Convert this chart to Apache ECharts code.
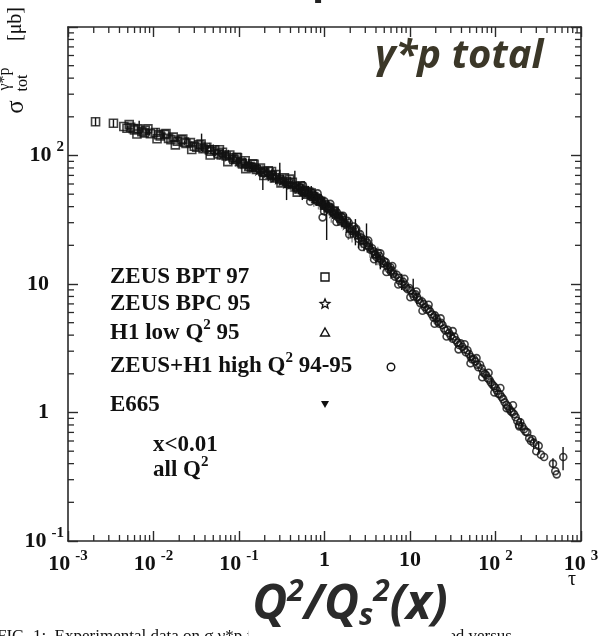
<!DOCTYPE html>
<html><head><meta charset="utf-8">
<script src="https://cdn.jsdelivr.net/npm/echarts@6/dist/echarts.min.js"></script>
<style>html,body{margin:0;padding:0;background:#fff}#c{width:605px;height:636px}</style>
</head><body><div id="c"></div>
<script>
// ---- axis ranges ----
const xRange = [0.001, 1000];
const yRange = [0.1, 1000];

// ---- data: [tau, sigma_tot (microbarn)] ----
const zeusBPT97 = [[0.0021,183],[0.0034,178],[0.0045,168],[0.0049,163],[0.0052,174],[0.0054,166],[0.0058,162],[0.006,158],[0.0064,147],[0.0066,161],[0.0073,153],[0.0078,150],[0.008,157],[0.0086,161],[0.0092,148],[0.0105,151],[0.011,135],[0.0115,145],[0.012,142],[0.0135,146],[0.014,148],[0.015,136],[0.016,133],[0.017,139],[0.018,121],[0.019,129],[0.021,132],[0.022,134],[0.023,127],[0.024,124],[0.027,126],[0.028,111.5],[0.03,118],[0.032,116],[0.034,121],[0.036,123],[0.038,113],[0.042,116],[0.045,111],[0.046,101],[0.047,108],[0.052,111],[0.058,103],[0.059,111],[0.062,101],[0.064,106],[0.071,99],[0.074,89.6],[0.078,101],[0.085,96],[0.087,93],[0.094,97],[0.096,96],[0.107,88],[0.11,86],[0.118,91],[0.12,79],[0.13,82],[0.14,81],[0.145,86],[0.15,85.6],[0.16,78],[0.178,80],[0.19,75],[0.195,69.8],[0.2,74],[0.22,76],[0.24,75],[0.245,70],[0.26,67],[0.27,71],[0.3,65],[0.31,61.2],[0.34,67],[0.36,63],[0.38,61],[0.39,65.5],[0.42,62],[0.47,57],[0.48,51.9],[0.5,55],[0.52,58],[0.58,53],[0.62,50],[0.65,52],[0.7,51],[0.75,48],[0.82,46],[0.9,44],[1.0,41],[1.1,39],[1.3,37],[1.6,31]];
const zeusBPC95 = [[0.04,116],[0.045,112],[0.055,107],[0.065,103],[0.075,99],[0.09,94],[0.1,91],[0.115,87],[0.13,85],[0.15,81],[0.17,77],[0.19,76],[0.21,73],[0.24,70],[0.26,68],[0.29,66],[0.32,64],[0.36,61],[0.4,60],[0.45,58],[0.5,56],[0.56,53],[0.62,51],[0.7,49],[0.78,47],[0.88,45],[0.98,42],[1.1,40],[1.25,36],[1.4,35],[1.8,29],[2.3,25]];
const h1LowQ2_95 = [[0.09,93],[0.1,89],[0.12,86],[0.14,82],[0.155,80],[0.18,77],[0.2,73],[0.23,71],[0.26,69],[0.3,66],[0.33,63],[0.38,60],[0.42,59],[0.48,56],[0.55,54],[0.62,52],[0.7,49],[0.78,46],[0.88,44],[1.0,42],[1.1,40],[1.25,37],[1.4,35],[1.58,32],[1.75,30],[2.0,27],[2.2,26],[2.5,24],[2.8,22],[3.2,20],[3.5,19],[4.0,17],[4.4,16],[5.0,14.5],[6.2,12.5]];
const e665 = [[0.0085,152],[0.013,143],[0.019,132],[0.028,122],[0.042,113],[0.065,101],[0.1,90],[0.15,80],[0.22,72],[0.33,64]];
const zeusH1HighQ2 = [[0.52,57],[0.55,52],[0.56,58.6],[0.58,51],[0.6,54],[0.64,53],[0.66,49],[0.68,43.9],[0.7,48],[0.72,51],[0.76,49],[0.78,46],[0.82,44],[0.83,50.7],[0.85,47],[0.88,46],[0.92,43],[0.95,33],[0.97,41],[0.99,36.8],[1.0,44],[1.04,42],[1.08,39],[1.12,38],[1.15,40],[1.17,42],[1.2,39],[1.25,36],[1.3,35],[1.35,37],[1.38,30.4],[1.4,36],[1.45,33],[1.5,32],[1.55,34],[1.62,33],[1.65,33.9],[1.7,30],[1.78,29],[1.85,31],[1.92,30],[1.95,24.3],[2.0,27],[2.1,26],[2.2,28],[2.3,26.5],[2.35,26.9],[2.4,24],[2.5,22.5],[2.6,24.5],[2.7,23],[2.75,19.4],[2.8,21.5],[2.9,20.5],[3.0,22],[3.15,21],[3.25,21.8],[3.3,19.5],[3.45,18.5],[3.6,19],[3.75,18],[3.8,15.6],[3.9,17],[4.05,16.2],[4.2,17.5],[4.4,16.5],[4.5,17.3],[4.6,15.5],[4.8,14.5],[5.0,15],[5.2,14.8],[5.3,12.4],[5.4,13.8],[5.7,13],[5.9,13.5],[6.1,12.8],[6.2,13.8],[6.4,12],[6.7,11.4],[7.0,11.8],[7.3,9.9],[7.35,11.2],[7.6,10.6],[8.0,10],[8.3,10.4],[8.6,11.0],[8.7,9.9],[9.0,9.4],[9.4,9.1],[9.8,9.3],[10.1,7.9],[10.2,8.9],[10.7,8.4],[11.1,8.0],[11.6,8.3],[11.9,8.75],[12.1,7.9],[12.6,7.5],[13.2,7.1],[13.8,7.3],[14,6.2],[14.4,7.0],[15,6.6],[15.7,6.3],[16.4,6.4],[16.5,6.9],[17.2,6.1],[18,5.8],[18.8,5.5],[19.4,4.9],[19.5,5.7],[20.4,5.4],[21,5.1],[22,4.9],[22.8,5.4],[23,5.0],[24,4.8],[25,4.5],[26,4.35],[26.8,3.9],[27.5,4.4],[28.7,4.15],[30,3.95],[31.5,3.75],[31.6,4.3],[33,3.9],[34.5,3.65],[36,3.5],[37,3.1],[37.5,3.35],[39,3.45],[41,3.25],[43,3.1],[43.5,3.4],[45,2.95],[47,3.05],[49,2.85],[51,2.42],[51.5,2.7],[53,2.6],[56,2.6],[58,2.5],[60,2.65],[61,2.35],[63,2.25],[66,2.35],[69,2.2],[70,1.88],[72,2.05],[75,2.0],[78,1.95],[81,1.85],[83,2.04],[85,1.8],[88,1.72],[92,1.65],[96,1.6],[97,1.43],[100,1.55],[104,1.48],[108,1.4],[113,1.38],[114,1.55],[118,1.32],[123,1.27],[128,1.2],[134,1.15],[135,1.08],[140,1.12],[146,1.06],[152,1.02],[158,1.0],[160,1.14],[165,0.97],[172,0.92],[180,0.86],[188,0.8],[190,0.78],[195,0.84],[205,0.78],[215,0.74],[225,0.71],[235,0.7],[248,0.63],[260,0.6],[270,0.62],[280,0.58],[300,0.5],[320,0.55],[340,0.47],[370,0.45],[470,0.4],[500,0.35],[520,0.33],[620,0.45]];
// ---- error bars: [tau, low, high] ----
const errBarsDark = [[0.0021,170,197],[0.0034,166,191],[0.005,158,170],[0.0068,143,186],[0.0075,150,162],[0.009,143,158],[0.011,138,164],[0.013,138,150],[0.016,128,146],[0.019,127,139],[0.023,121,131],[0.026,117,134],[0.032,112,124],[0.0365,108,148],[0.043,106,119],[0.05,100,122],[0.06,98,110],[0.075,92,110],[0.085,90,101],[0.1,84,96],[0.12,78,95],[0.14,77,90],[0.17,74,86],[0.19,54,68],[0.25,62,80],[0.27,62,74],[0.30,64,88],[0.33,58,71],[0.36,45,67],[0.45,60,76],[0.5,50,62],[0.55,45,60],[0.65,47,58],[0.7,44,58],[0.8,41,52],[0.95,38,48],[1.06,22,37],[1.25,32,41],[1.4,30,40],[1.6,28,36],[1.8,25,35],[2.0,23,31],[2.3,20,32],[2.5,19,27],[2.9,18,24],[3.1,20.7,29.6],[3.6,16,21],[4.0,14,19],[4.5,13,17],[5.5,12,15],[6,11,14.5],[8,9,12],[10.9,9,11],[12,7,8.6],[20,4.9,6],[30,3.6,4.3],[50,2.5,3.0],[90,1.55,1.85],[150,0.95,1.12],[200,0.75,0.9],[280,0.52,0.63],[320,0.48,0.6],[470,0.37,0.44],[617,0.355,0.54]];
const errBarsGray = [[0.028,115,130],[0.065,95,112],[0.15,72,88],[0.22,63,82],[0.4,52,68],[0.6,47,62],[0.75,40,56],[0.85,38,50],[1.0,34,47],[1.2,30,42],[1.6,27,36],[1.9,22,33],[2.1,21,30],[2.7,19,26],[3.4,16,22],[4.2,14,19.5],[5,12.5,16.5],[7,10,13],[8.5,9,11.5],[14,6.5,8]];

// minor tick values (2..9 x 10^k), axis decoration only
const xMinor = [], yMinor = [];
for (let k = -3; k < 3; k++) for (let m = 2; m < 10; m++) xMinor.push([m * Math.pow(10, k), 1]);
for (let k = -1; k < 3; k++) for (let m = 2; m < 10; m++) yMinor.push([1, m * Math.pow(10, k)]);

const serif = 'Liberation Serif';
const INK = '#111111';
const AXL = {show: true, onZero: false, lineStyle: {color: '#2a2a2a', width: 1.6}};
const TICK = {show: true, inside: true, length: 10, lineStyle: {color: '#2a2a2a', width: 1.4}};

function xLab(v) {
  const e = Math.round(Math.log10(v));
  if (e === 0) return '{b|1}';
  if (e === 1) return '{b|10}';
  return '{b|10}{s|' + e + '}';
}
function yLab(v) {
  const e = Math.round(Math.log10(v));
  if (e === 3) return '';
  if (e === 0) return '{bp|1}';
  if (e === 1) return '{bp|10}';
  return '{b|10}{s|' + e + '}';
}
const tickRich = {
  b: {fontFamily: serif, fontWeight: 'bold', fontSize: 22, color: INK},
  bp: {fontFamily: serif, fontWeight: 'bold', fontSize: 22, color: INK, padding: [0, 15, 0, 0]},
  s: {fontFamily: serif, fontWeight: 'bold', fontSize: 15, color: INK, padding: [0, 0, 16, 5]}
};

function minorXRender(params, api) {
  const cs = params.coordSys;
  const x = api.coord([api.value(0), 1])[0];
  const b = cs.y + cs.height, t = cs.y;
  const st = {stroke: '#2a2a2a', lineWidth: 1.3};
  return {type: 'group', children: [
    {type: 'line', shape: {x1: x, y1: b, x2: x, y2: b - 6}, style: st},
    {type: 'line', shape: {x1: x, y1: t, x2: x, y2: t + 6}, style: st}
  ]};
}
function minorYRender(params, api) {
  const cs = params.coordSys;
  const y = api.coord([1, api.value(1)])[1];
  const l = cs.x, r = cs.x + cs.width;
  const st = {stroke: '#2a2a2a', lineWidth: 1.3};
  return {type: 'group', children: [
    {type: 'line', shape: {x1: l, y1: y, x2: l + 6, y2: y}, style: st},
    {type: 'line', shape: {x1: r, y1: y, x2: r - 6, y2: y}, style: st}
  ]};
}
function errRender(color) {
  return function (params, api) {
    const p1 = api.coord([api.value(0), api.value(1)]);
    const p2 = api.coord([api.value(0), api.value(2)]);
    return {type: 'line', shape: {x1: p1[0], y1: p1[1], x2: p2[0], y2: p2[1]}, style: {stroke: color, lineWidth: 1.4}};
  };
}

const hollow = {color: 'rgba(255,255,255,0)', borderColor: INK, borderWidth: 1.6};
const starPath = 'path://M50,0 L61,35 L98,35 L68,57 L79,91 L50,70 L21,91 L32,57 L2,35 L39,35 Z';

function starPts(cx, cy, R) {
  const pts = [];
  for (let i = 0; i < 10; i++) {
    const a = -Math.PI / 2 + i * Math.PI / 5;
    const r = i % 2 ? R * 0.45 : R;
    pts.push([cx + r * Math.cos(a), cy + r * Math.sin(a)]);
  }
  return pts;
}
const legTxt = {fontFamily: serif, fontWeight: 'bold', fontSize: 23, fill: INK, align: 'left', verticalAlign: 'middle'};
const legRich = {sup: {fontFamily: serif, fontWeight: 'bold', fontSize: 15, fill: INK, padding: [0, 0, 15, 0]}};
const mk = {fill: 'none', stroke: INK, lineWidth: 1.4};

const chart = echarts.init(document.getElementById('c'));
chart.setOption({
  animation: false,
  backgroundColor: '#fff',
  grid: {left: 68, top: 27, width: 513, height: 514},
  xAxis: [
    {type: 'log', logBase: 10, min: xRange[0], max: xRange[1], splitNumber: 6, position: 'bottom',
     axisLine: AXL, axisTick: TICK, splitLine: {show: false}, minorTick: {show: false},
     axisLabel: {formatter: xLab, rich: tickRich, margin: 8, showMinLabel: true, showMaxLabel: true}},
    {type: 'log', logBase: 10, min: xRange[0], max: xRange[1], splitNumber: 6, position: 'top',
     axisLine: AXL, axisTick: TICK, splitLine: {show: false}, axisLabel: {show: false}}
  ],
  yAxis: [
    {type: 'log', logBase: 10, min: yRange[0], max: yRange[1], splitNumber: 4, position: 'left',
     axisLine: AXL, axisTick: TICK, splitLine: {show: false},
     axisLabel: {formatter: yLab, rich: tickRich, margin: 4, showMinLabel: true}},
    {type: 'log', logBase: 10, min: yRange[0], max: yRange[1], splitNumber: 4, position: 'right',
     axisLine: AXL, axisTick: TICK, splitLine: {show: false}, axisLabel: {show: false}}
  ],
  series: [
    {type: 'custom', name: 'minorX', data: xMinor, renderItem: minorXRender, silent: true, z: 1},
    {type: 'custom', name: 'minorY', data: yMinor, renderItem: minorYRender, silent: true, z: 1},
    {type: 'custom', name: 'errGray', data: errBarsGray, renderItem: errRender('#8a8a8a'), silent: true, z: 2},
    {type: 'custom', name: 'errDark', data: errBarsDark, renderItem: errRender('#111111'), silent: true, z: 2},
    {type: 'scatter', name: 'ZEUS BPT 97', data: zeusBPT97, symbol: 'rect', symbolSize: 8, itemStyle: hollow, z: 3},
    {type: 'scatter', name: 'ZEUS BPC 95', data: zeusBPC95, symbol: starPath, symbolSize: 8, itemStyle: hollow, z: 3},
    {type: 'scatter', name: 'H1 low Q2 95', data: h1LowQ2_95, symbol: 'triangle', symbolSize: 7, itemStyle: hollow, z: 3},
    {type: 'scatter', name: 'ZEUS+H1 high Q2 94-95', data: zeusH1HighQ2, symbol: 'circle', symbolSize: 7, itemStyle: hollow, z: 3},
    {type: 'scatter', name: 'E665', data: e665, symbol: 'triangle', symbolRotate: 180, symbolSize: 6, itemStyle: {color: INK}, z: 3}
  ],
  graphic: [
    {type: 'text', x: 312, y: 3, style: {text: 'p', font: 'bold 40px "Open Sans"', fill: '#222', verticalAlign: 'bottom'}},
    {type: 'text', x: 375, y: 57, style: {text: 'γ*p total', font: 'italic bold 40px "Open Sans"', fill: '#3b3728', verticalAlign: 'middle'}},
    {type: 'text', x: 16, y: 107, rotation: Math.PI / 2, style: {text: 'σ', font: '25px "Liberation Serif"', fill: INK, align: 'center', verticalAlign: 'middle'}},
    {type: 'text', x: 23, y: 83, rotation: Math.PI / 2, style: {text: 'tot', font: '16px "Liberation Serif"', fill: INK, align: 'center', verticalAlign: 'middle'}},
    {type: 'text', x: 5, y: 79, rotation: Math.PI / 2, style: {text: 'γ*p', font: '16px "Liberation Serif"', fill: INK, align: 'center', verticalAlign: 'middle'}},
    {type: 'text', x: 16, y: 24, rotation: Math.PI / 2, style: {text: '[μb]', font: '20px "Liberation Serif"', fill: INK, align: 'center', verticalAlign: 'middle'}},
    {type: 'text', x: 110, y: 277, style: Object.assign({text: 'ZEUS BPT 97'}, legTxt)},
    {type: 'text', x: 110, y: 304, style: Object.assign({text: 'ZEUS BPC 95'}, legTxt)},
    {type: 'text', x: 110, y: 333, style: Object.assign({text: 'H1 low Q{sup|2} 95', rich: legRich}, legTxt)},
    {type: 'text', x: 110, y: 366, style: Object.assign({text: 'ZEUS+H1 high Q{sup|2} 94-95', rich: legRich}, legTxt)},
    {type: 'text', x: 110, y: 405, style: Object.assign({text: 'E665'}, legTxt)},
    {type: 'text', x: 153, y: 445, style: Object.assign({text: 'x<0.01'}, legTxt)},
    {type: 'text', x: 153, y: 470, style: Object.assign({text: 'all Q{sup|2}', rich: legRich}, legTxt)},
    {type: 'rect', shape: {x: 321, y: 273, width: 8, height: 8}, style: mk},
    {type: 'polygon', shape: {points: starPts(325, 304, 5)}, style: mk},
    {type: 'polygon', shape: {points: [[325, 328], [329.5, 336], [320.5, 336]]}, style: mk},
    {type: 'circle', shape: {cx: 391, cy: 367, r: 3.8}, style: mk},
    {type: 'polygon', shape: {points: [[321, 401], [329, 401], [325, 408]]}, style: {fill: INK}},
    {type: 'text', x: 568, y: 580, style: {text: 'τ', font: '20px "Liberation Serif"', fill: INK, verticalAlign: 'middle'}},
    {type: 'text', x: -3, y: 628, style: {text: 'FIG. 1:  Experimental data on σ γ*p from the region x < 0.01 plotted versus', font: '17px "Liberation Serif"', fill: INK, verticalAlign: 'top'}},
    {type: 'text', x: 350, y: 610, style: {
      text: '{q|Q}{p|2}{q|/Q}{b|s}{p|2}{q|(x)}', align: 'center', verticalAlign: 'middle', backgroundColor: '#fff', padding: [0, 4, 10, 4],
      rich: {
        q: {fontFamily: 'Open Sans', fontStyle: 'italic', fontWeight: 'bold', fontSize: 48, fill: '#2a2a2a'},
        p: {fontFamily: 'Open Sans', fontStyle: 'italic', fontWeight: 'bold', fontSize: 30, fill: '#2a2a2a', padding: [0, 0, 26, 0]},
        b: {fontFamily: 'Open Sans', fontStyle: 'italic', fontWeight: 'bold', fontSize: 30, fill: '#2a2a2a', padding: [22, 0, 0, 0]}
      }}}
  ]
});
</script>
</body></html>
